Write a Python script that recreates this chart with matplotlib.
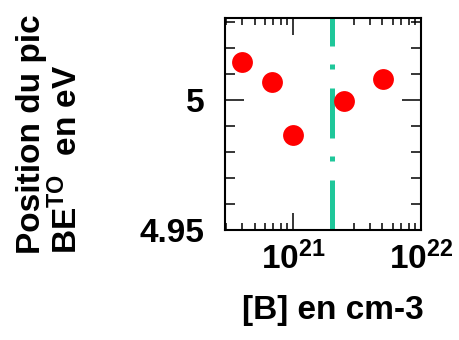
import matplotlib
matplotlib.use("Agg")
import matplotlib.pyplot as plt
from matplotlib.ticker import FixedLocator, FixedFormatter, LogLocator, MultipleLocator, NullFormatter

plt.rcParams['font.family'] = ['Liberation Sans', 'DejaVu Sans']
plt.rcParams['mathtext.default'] = 'regular'

# data
boron_conc = [4.0e20, 6.9e20, 1.0e21, 2.5e21, 5.07e21]
peak_pos = [5.0146, 5.0069, 4.9865, 4.9997, 5.008]
threshold_conc = 2.0e21

xtick_vals = [1e21, 1e22]
xtick_labels = ['$10^{21}$', '$10^{22}$']
ytick_vals = [4.95, 5.0]
ytick_labels = ['4.95', '5']

xlim = (2.94e20, 1e22)
ylim = (4.95, 5.0315)

ylabel_text = 'Position du pic\nBE$^{TO}$  en eV'
xlabel_text = '[B] en cm-3'

fig = plt.figure(figsize=(4.59, 3.40), dpi=100)
ax = fig.add_axes([225/459, 1-230/340, 196/459, 212/340])

ax.axvline(threshold_conc, color='#1fc79a', lw=3.6,
           linestyle=(0, (10, 3.8, 1.0, 3.6)), zorder=2)
ax.plot(boron_conc, peak_pos, 'o', color='#ff0000', markersize=15,
        markeredgewidth=0, zorder=3, clip_on=False)

ax.set_xscale('log')
ax.set_xlim(*xlim)
ax.set_ylim(*ylim)

ax.xaxis.set_major_locator(FixedLocator(xtick_vals))
ax.xaxis.set_major_formatter(FixedFormatter(xtick_labels))
ax.xaxis.set_minor_locator(LogLocator(base=10, subs=range(2, 10), numticks=20))
ax.xaxis.set_minor_formatter(NullFormatter())
ax.yaxis.set_major_locator(FixedLocator(ytick_vals))
ax.yaxis.set_major_formatter(FixedFormatter(ytick_labels))
ax.yaxis.set_minor_locator(MultipleLocator(0.01))

for s in ax.spines.values():
    s.set_linewidth(1.5)

ax.tick_params(axis='both', which='both', direction='in', top=True, right=True, width=1.1)
ax.tick_params(axis='x', which='major', length=12, pad=8, labelsize=24)
ax.tick_params(axis='x', which='minor', length=5)
ax.tick_params(axis='y', which='major', length=14, pad=15, labelsize=24)
ax.tick_params(axis='y', which='minor', length=7)
for lab in ax.get_xticklabels() + ax.get_yticklabels():
    lab.set_fontweight('bold')

ax.set_xlabel(xlabel_text, fontsize=24, fontweight='bold', va='center')
ax.xaxis.set_label_coords((333-225)/196, (230-310)/212)

fig.text(16/459, 1-254/340, ylabel_text, rotation=90, ha='left', va='bottom',
         multialignment='left', linespacing=1.1, fontsize=24, fontweight='bold')

fig.savefig('out.png', dpi=100)
